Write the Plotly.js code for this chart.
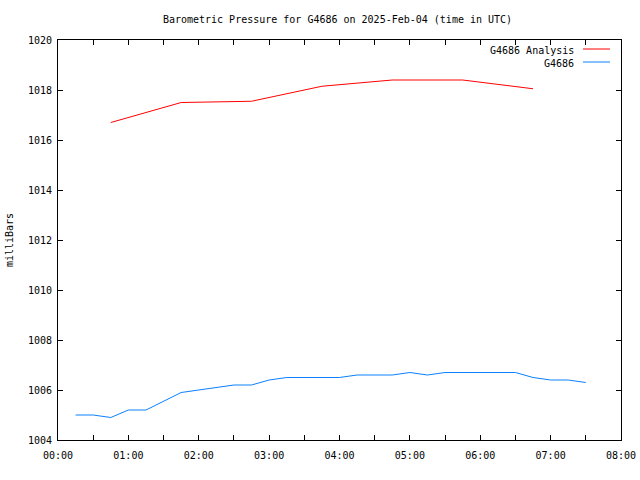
<!DOCTYPE html>
<html>
<head>
<meta charset="utf-8">
<script src="https://cdn.plot.ly/plotly-3.0.1.min.js"></script>
<style>html,body{margin:0;padding:0;background:#fff;}#chart{width:640px;height:480px;}</style>
</head>
<body>
<div id="chart"></div>
<script>
// Station observations (every 15 minutes, UTC)
const obsTimes = ["2025-02-04 00:15","2025-02-04 00:30","2025-02-04 00:45","2025-02-04 01:00","2025-02-04 01:15","2025-02-04 01:30","2025-02-04 01:45","2025-02-04 02:00","2025-02-04 02:15","2025-02-04 02:30","2025-02-04 02:45","2025-02-04 03:00","2025-02-04 03:15","2025-02-04 03:30","2025-02-04 03:45","2025-02-04 04:00","2025-02-04 04:15","2025-02-04 04:30","2025-02-04 04:45","2025-02-04 05:00","2025-02-04 05:15","2025-02-04 05:30","2025-02-04 05:45","2025-02-04 06:00","2025-02-04 06:15","2025-02-04 06:30","2025-02-04 06:45","2025-02-04 07:00","2025-02-04 07:15","2025-02-04 07:30"];
const obsPressure = [1005.0,1005.0,1004.9,1005.2,1005.2,1005.55,1005.9,1006.0,1006.1,1006.2,1006.2,1006.4,1006.5,1006.5,1006.5,1006.5,1006.6,1006.6,1006.6,1006.7,1006.6,1006.7,1006.7,1006.7,1006.7,1006.7,1006.5,1006.4,1006.4,1006.3];

// Analysis (hourly)
const anaTimes = ["2025-02-04 00:45","2025-02-04 01:45","2025-02-04 02:45","2025-02-04 03:45","2025-02-04 04:45","2025-02-04 05:45","2025-02-04 06:45"];
const anaPressure = [1016.7,1017.5,1017.55,1018.15,1018.4,1018.4,1018.05];

const seriesNames = ["G4686 Analysis","G4686"];
const seriesColors = ["#ff0000","#0a80ff"];

const font = {family: "DejaVu Sans Mono, monospace", size: 10, color: "#000"};

const traces = [
  {x: anaTimes, y: anaPressure, type: "scatter", mode: "lines", name: seriesNames[0],
   line: {color: seriesColors[0], width: 1}, hoverinfo: "x+y"},
  {x: obsTimes, y: obsPressure, type: "scatter", mode: "lines", name: seriesNames[1],
   line: {color: seriesColors[1], width: 1}, hoverinfo: "x+y"}
];

const layout = {
  width: 640, height: 480,
  margin: {l: 58, r: 19, t: 40, b: 40, pad: 0},
  paper_bgcolor: "#fff", plot_bgcolor: "#fff",
  font: font,
  showlegend: false,
  title: {text: "Barometric Pressure for G4686 on 2025-Feb-04 (time in UTC)", font: font,
          xref: "container", x: 337.5/640, xanchor: "center", y: 1 - 19/480, yanchor: "middle"},
  xaxis: {
    type: "date",
    range: ["2025-02-04 00:00", "2025-02-04 08:00"],
    dtick: 3600000, tick0: "2025-02-04 00:00", tickformat: "%H:%M",
    ticks: "inside", ticklen: 5, tickcolor: "#000", tickwidth: 1,
    minor: {dtick: 1800000, ticks: "inside", ticklen: 5, tickcolor: "#000", showgrid: false},
    showline: true, linecolor: "#000", linewidth: 1, mirror: "allticks",
    showgrid: false, zeroline: false, tickfont: font, ticklabelstandoff: 6
  },
  yaxis: {
    range: [1004, 1020], dtick: 2, tick0: 1004,
    ticks: "inside", ticklen: 5, tickcolor: "#000", tickwidth: 1,
    showline: true, linecolor: "#000", linewidth: 1, mirror: "allticks",
    showgrid: false, zeroline: false, tickfont: font, ticklabelstandoff: 3,
    title: {text: "milliBars", font: font, standoff: 12}
  },
  annotations: [
    {xref: "paper", yref: "paper", x: (576-58)/563, y: (440-50)/400, xanchor: "right", yanchor: "middle",
     text: seriesNames[0], showarrow: false, font: font},
    {xref: "paper", yref: "paper", x: (576-58)/563, y: (440-63)/400, xanchor: "right", yanchor: "middle",
     text: seriesNames[1], showarrow: false, font: font}
  ],
  shapes: [
    {type: "line", xref: "paper", yref: "paper", x0: (583-58)/563, x1: (610-58)/563,
     y0: (440-49)/400, y1: (440-49)/400, line: {color: seriesColors[0], width: 1}},
    {type: "line", xref: "paper", yref: "paper", x0: (583-58)/563, x1: (610-58)/563,
     y0: (440-62)/400, y1: (440-62)/400, line: {color: seriesColors[1], width: 1}}
  ]
};

Plotly.newPlot("chart", traces, layout, {displayModeBar: false, staticPlot: true});
</script>
</body>
</html>
